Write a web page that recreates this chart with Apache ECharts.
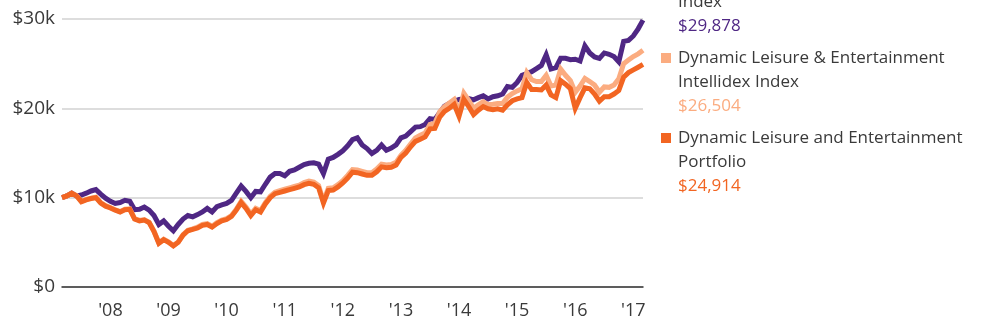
<!DOCTYPE html>
<html>
<head>
<meta charset="utf-8">
<script src="https://cdn.jsdelivr.net/npm/echarts@6/dist/echarts.min.js"></script>
<style>
  html, body { margin: 0; padding: 0; background: #fff; }
  #chart { width: 981px; height: 329px; }
</style>
</head>
<body>
<div id="chart"></div>
<script>
// Growth of $10,000, monthly, March 2007 - March 2017 (values in $k)
const startYear = 2007, startMonth = 3, monthCount = 121;
const months = [];
for (let i = 0; i < monthCount; i++) {
  const m = (startMonth - 1 + i) % 12 + 1;
  const y = startYear + Math.floor((startMonth - 1 + i) / 12);
  months.push(y + '-' + String(m).padStart(2, '0'));
}

const seriesNames = [
  ['S&P 500® Consumer Discretionary', 'Index'],
  ['Dynamic Leisure & Entertainment', 'Intellidex Index'],
  ['Dynamic Leisure and Entertainment', 'Portfolio']
];
const seriesColors = ['#4f2784', '#fbac80', '#f26522'];

const benchmarkIndex = [
  10.0, 10.2, 10.5, 10.2, 10.3, 10.5, 10.75, 10.9, 10.4, 9.95,
  9.6, 9.35, 9.45, 9.7, 9.6, 8.65, 8.7, 8.95, 8.6, 8.0,
  7.0, 7.4, 6.8, 6.3, 7.0, 7.6, 8.0, 7.85, 8.1, 8.4,
  8.8, 8.4, 9.0, 9.2, 9.35, 9.7, 10.5, 11.3, 10.7, 10.0,
  10.7, 10.65, 11.5, 12.3, 12.7, 12.7, 12.45, 12.95, 13.1, 13.4,
  13.7, 13.85, 13.9, 13.75, 12.7, 14.3, 14.5, 14.85, 15.25, 15.8,
  16.5, 16.7, 15.9, 15.5, 14.95, 15.3, 15.9, 15.3, 15.55, 15.9,
  16.7, 16.9, 17.4, 17.9, 17.95, 18.2, 18.85, 18.75, 19.5, 20.25,
  20.55, 20.8, 21.0, 21.05, 21.1, 20.95, 21.2, 21.4, 21.05, 21.3,
  21.4, 21.6, 22.45, 22.35, 22.9, 23.7, 23.9, 24.1, 24.45, 24.8,
  26.0, 24.4, 24.55, 25.6, 25.6, 25.45, 25.5, 25.3, 27.0, 26.2,
  25.75, 25.6, 26.2, 26.05, 25.8, 25.2, 27.5, 27.6, 28.1, 28.9,
  29.878
];

const intellidexIndex = [
  10.0, 10.2, 10.5, 10.25, 9.6, 9.8, 9.95, 10.05, 9.45, 9.1,
  8.9, 8.65, 8.45, 8.7, 8.75, 7.65, 7.45, 7.55, 7.25, 6.25,
  4.95, 5.35, 5.05, 4.65, 5.05, 5.85, 6.35, 6.5, 6.7, 7.0,
  7.1, 6.8, 7.2, 7.5, 7.65, 8.0, 8.7, 9.6, 8.95, 8.15,
  8.8, 8.55, 9.45, 10.15, 10.6, 10.8, 10.95, 11.1, 11.25, 11.4,
  11.7, 11.85, 11.75, 11.35, 9.6, 11.05, 11.1, 11.45, 11.9, 12.5,
  13.15, 13.1, 12.95, 12.8, 12.8, 13.2, 13.75, 13.65, 13.7, 13.95,
  14.75, 15.3, 16.0, 16.7, 17.0, 17.25, 18.2, 18.3, 19.6, 20.2,
  20.6, 21.0, 19.6, 21.7, 20.9, 20.0, 20.4, 20.75, 20.4, 20.45,
  20.55, 20.55, 21.25, 21.65, 21.95, 22.2, 24.0, 23.2, 23.0, 23.0,
  23.7, 22.5, 22.6, 24.4, 23.7, 23.1, 21.8, 22.5, 23.35, 23.0,
  22.6, 21.8, 22.4, 22.35, 22.6, 23.3, 25.0, 25.4, 25.8, 26.1,
  26.504
];

const portfolio = [
  10.0, 10.2, 10.5, 10.2, 9.55, 9.75, 9.9, 10.0, 9.4, 9.05,
  8.85, 8.6, 8.4, 8.65, 8.7, 7.6, 7.4, 7.5, 7.2, 6.2,
  4.9, 5.3, 5.0, 4.6, 5.0, 5.8, 6.3, 6.45, 6.6, 6.9,
  7.0, 6.7, 7.1, 7.4, 7.55, 7.9, 8.6, 9.45, 8.8, 8.0,
  8.65, 8.4, 9.3, 10.0, 10.45, 10.6, 10.75, 10.9, 11.05, 11.2,
  11.45, 11.6, 11.5, 11.1, 9.4, 10.8, 10.85, 11.2, 11.65, 12.2,
  12.85, 12.8, 12.65, 12.5, 12.5, 12.9, 13.45, 13.35, 13.4, 13.65,
  14.5, 15.0, 15.7, 16.3, 16.55, 16.8, 17.7, 17.75, 19.0, 19.65,
  20.0, 20.45, 19.1, 21.0, 20.2, 19.3, 19.8, 20.2, 19.95, 19.85,
  19.95, 19.8, 20.4, 20.85, 21.05, 21.2, 22.9, 22.1, 22.1, 22.05,
  22.6, 21.5, 21.2, 23.1, 22.7, 22.2, 20.0, 21.2, 22.3, 22.2,
  21.6, 20.8, 21.3, 21.3, 21.6, 22.0, 23.5, 24.0, 24.3, 24.6,
  24.914
];

const yTicks = [0, 10, 20, 30];

const allSeries = [benchmarkIndex, intellidexIndex, portfolio];
const FONT = '"Open Sans", sans-serif';
const TEXT = '#3a3a3a';

function money(v) {
  return '$' + Math.round(v * 1000).toLocaleString('en-US');
}

// Legend block on the right: marker, name lines, ending value
const legendX = 661, textX = 678, firstTop = -22, blockStep = 80, lineStep = 24;
const graphics = [];
seriesNames.forEach((lines, i) => {
  const top = firstTop + i * blockStep;
  graphics.push({
    type: 'rect',
    shape: { x: legendX, y: top - 5, width: 10, height: 10 },
    style: { fill: seriesColors[i] }
  });
  const series = allSeries[i];
  const rows = lines.concat([money(series[series.length - 1])]);
  rows.forEach((txt, r) => {
    graphics.push({
      type: 'text',
      style: {
        x: textX, y: top + r * lineStep, text: txt,
        fill: r === rows.length - 1 ? seriesColors[i] : TEXT,
        font: '17px ' + FONT, verticalAlign: 'middle'
      }
    });
  });
});

const chart = echarts.init(document.getElementById('chart'), null, { renderer: 'canvas' });
chart.setOption({
  animation: false,
  backgroundColor: '#fff',
  grid: { left: 62, right: 338, top: 19, bottom: 42, containLabel: false },
  xAxis: {
    type: 'category',
    data: months,
    boundaryGap: false,
    axisLine: { show: true, lineStyle: { color: '#333', width: 1.5 } },
    axisTick: { show: false },
    axisLabel: {
      interval: (idx, val) => val.endsWith('-01'),
      formatter: (val) => "'" + val.slice(2, 4),
      color: TEXT, fontFamily: FONT, fontSize: 18, margin: 15
    },
    splitLine: { show: false }
  },
  yAxis: {
    type: 'value',
    min: yTicks[0], max: yTicks[yTicks.length - 1], interval: 10,
    axisLine: { show: false },
    axisTick: { show: false },
    axisLabel: {
      formatter: (v) => v === 0 ? '$0' : '$' + v + 'k',
      color: TEXT, fontFamily: FONT, fontSize: 19, margin: 7
    },
    splitLine: { lineStyle: { color: '#d2d2d2', width: 1.5 } }
  },
  graphic: graphics,
  series: allSeries.map((data, i) => ({
    type: 'line',
    name: lines0(i),
    data: data,
    showSymbol: false,
    symbol: 'none',
    lineStyle: { color: seriesColors[i], width: 5, join: 'miter' },
    z: 2 + i
  }))
});
function lines0(i) { return seriesNames[i].join(' '); }
</script>
</body>
</html>
